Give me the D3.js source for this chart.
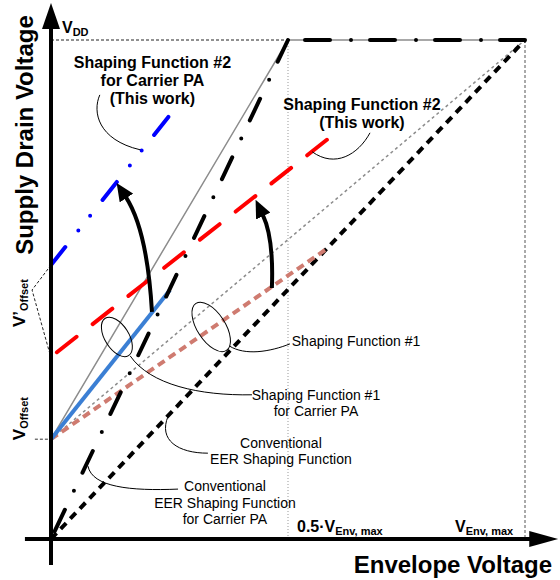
<!DOCTYPE html>
<html>
<head>
<meta charset="utf-8">
<script src="https://cdn.jsdelivr.net/npm/d3@7"></script>
<style>
  body { margin: 0; background: #fff; }
  text { font-family: "Liberation Sans", Arial, Helvetica, sans-serif; fill: #000; }
</style>
</head>
<body>
<div id="chart"></div>
<script>
const width = 560;
const height = 580;

// Envelope voltage (0..1 of V_Env,max) vs supply voltage (0..1 of V_DD)
const vOffset = 0.2;
const conventionalEER = [[0, 0], [1, 1]];
const conventionalCarrierRise = [[0.5, 1], [0, 0]];
const conventionalCarrierFlat = [[1, 1], [0.5, 1]];
const shaping1 = [[0, vOffset], [1, 1]];
const shaping1Carrier = [[0, vOffset], [0.5, 1], [1, 1]];
const shaping1Pink = [[0, vOffset], [0.584, 0.583]];
const shaping1CarrierBlue = [[0, vOffset], [0.251, 0.499]];
const shaping2 = [[0.582, 0.80], [0, 0.365]];
const shaping2Carrier = [[0, 0.549], [0.251, 0.85]];

// annotation geometry (data units)
const arrows = [
  [[0.213, 0.455], [0.203, 0.619], [0.158, 0.685]],
  [[0.466, 0.503], [0.470, 0.603], [0.447, 0.649]]
];
const leaders = [
  [[0.103, 0.890], [0.087, 0.856], [0.099, 0.800], [0.188, 0.780]],
  [[0.673, 0.814], [0.648, 0.770], [0.599, 0.743], [0.551, 0.776]],
  [[0.376, 0.387], [0.409, 0.367], [0.462, 0.375], [0.504, 0.391]],
  [[0.167, 0.367], [0.209, 0.309], [0.314, 0.287], [0.424, 0.289]],
  [[0.247, 0.246], [0.226, 0.198], [0.268, 0.172], [0.331, 0.172]],
  [[0.078, 0.146], [0.087, 0.104], [0.167, 0.096], [0.268, 0.100]]
];
const ellipses = [
  { at: [0.338, 0.425], rx: 28, ry: 14, rot: 57 },
  { at: [0.139, 0.405], rx: 22, ry: 12, rot: 58 }
];
const labels = [
  { lines: ["Shaping Function #2", "for Carrier PA", "(This work)"], at: [0.214, 0.944], bold: true, size: 16, lh: 18, anchor: "middle" },
  { lines: ["Shaping Function #2", "(This work)"], at: [0.656, 0.860], bold: true, size: 16, lh: 18, anchor: "middle" },
  { lines: ["Shaping Function #1"], at: [0.508, 0.387], size: 14, lh: 16, anchor: "start" },
  { lines: ["Shaping Function #1", "for Carrier PA"], at: [0.559, 0.279], size: 14, lh: 16, anchor: "middle" },
  { lines: ["Conventional", "EER Shaping Function"], at: [0.485, 0.182], size: 14, lh: 16, anchor: "middle" },
  { lines: ["Conventional", "EER Shaping Function", "for Carrier PA"], at: [0.367, 0.096], size: 14, lh: 16.5, anchor: "middle" }
];

const svg = d3.select("#chart")
  .append("svg")
  .attr("width", width)
  .attr("height", height);

const x = d3.scaleLinear().domain([0, 1]).range([51, 525]);
const y = d3.scaleLinear().domain([0, 1]).range([539, 40]);
const line = d3.line().x(d => x(d[0])).y(d => y(d[1]));

function draw(points, stroke, w, dash, cap) {
  svg.append("path")
    .attr("d", line(points))
    .attr("fill", "none")
    .attr("stroke", stroke)
    .attr("stroke-width", w)
    .attr("stroke-dasharray", dash || null)
    .attr("stroke-linecap", cap || "butt");
}

// guide lines
draw([[0, 1], [0.5, 1]], "#222", 1, "3,2");
draw([[0.5, 1], [0.5, 0]], "#999", 1, "1,2");
draw([[1, 1], [1, 0]], "#555", 1, "3,2");
draw([[-0.034, vOffset], [0, vOffset]], "#333", 1, "3,2");
draw([[0, 0.549], [-0.04, 0.499], [0, 0.363]], "#222", 1, "3,2");

// curves
draw(shaping1Carrier, "#8c8c8c", 1.5);
draw(shaping1, "#8c8c8c", 1.5, "3,3");
draw(conventionalEER, "#000", 4, "8,6");
draw(shaping1Pink, "#cf7b70", 4, "8,5");
draw(shaping1CarrierBlue, "#3b7fd4", 4);
draw(shaping2, "#ff0000", 4, "25,20.5", "round");
draw(shaping2Carrier, "#0000ff", 4, "23,21,0,19,0,20", "round");
draw(conventionalCarrierRise, "#000", 4, "24,20,0,21", "round");
draw(conventionalCarrierFlat, "#000", 4, "25,19,0,21", "round");

// arrows
svg.append("defs").append("marker")
  .attr("id", "head")
  .attr("markerUnits", "userSpaceOnUse")
  .attr("viewBox", "0 0 18 16")
  .attr("refX", 1).attr("refY", 8)
  .attr("markerWidth", 18).attr("markerHeight", 16)
  .attr("orient", "auto")
  .append("path").attr("d", "M0,0 L18,8 L0,16 Z").attr("fill", "#000");

arrows.forEach(a => {
  svg.append("path")
    .attr("d", `M${x(a[0][0])},${y(a[0][1])} Q${x(a[1][0])},${y(a[1][1])} ${x(a[2][0])},${y(a[2][1])}`)
    .attr("fill", "none")
    .attr("stroke", "#000")
    .attr("stroke-width", 4)
    .attr("marker-end", "url(#head)");
});

// leader lines and ellipses
leaders.forEach(c => {
  const p = c.map(d => `${x(d[0])},${y(d[1])}`);
  svg.append("path")
    .attr("d", `M${p[0]} C${p[1]} ${p[2]} ${p[3]}`)
    .attr("fill", "none")
    .attr("stroke", "#000")
    .attr("stroke-width", 1);
});
ellipses.forEach(e => {
  svg.append("ellipse")
    .attr("transform", `translate(${x(e.at[0])},${y(e.at[1])}) rotate(${e.rot})`)
    .attr("rx", e.rx).attr("ry", e.ry)
    .attr("fill", "none")
    .attr("stroke", "#000")
    .attr("stroke-width", 1);
});

// axes
svg.append("line")
  .attr("x1", x(0)).attr("x2", x(0))
  .attr("y1", y(-0.052)).attr("y2", y(1.024))
  .attr("stroke", "#000").attr("stroke-width", 4);
svg.append("path")
  .attr("d", `M${x(0)},${y(1.074)} L${x(0) - 9},${y(1.022)} L${x(0) + 9},${y(1.022)} Z`)
  .attr("fill", "#000");
svg.append("line")
  .attr("x1", x(-0.055)).attr("x2", x(1.011))
  .attr("y1", y(0)).attr("y2", y(0))
  .attr("stroke", "#000").attr("stroke-width", 4);
svg.append("path")
  .attr("d", `M${x(1.07)},${y(0)} L${x(1.009)},${y(0) - 8} L${x(1.009)},${y(0) + 8} Z`)
  .attr("fill", "#000");

// annotation labels
labels.forEach(l => {
  const t = svg.append("text")
    .attr("text-anchor", l.anchor)
    .attr("font-size", l.size)
    .attr("font-weight", l.bold ? "bold" : "normal");
  l.lines.forEach((s, i) => {
    t.append("tspan")
      .attr("x", x(l.at[0]))
      .attr("y", y(l.at[1]) + i * l.lh)
      .text(s);
  });
});

// axis titles
svg.append("text")
  .attr("transform", "translate(33,135) rotate(-90)")
  .attr("text-anchor", "middle")
  .attr("font-size", 24).attr("font-weight", "bold")
  .text("Supply Drain Voltage");
svg.append("text")
  .attr("x", 552).attr("y", 573)
  .attr("text-anchor", "end")
  .attr("font-size", 24).attr("font-weight", "bold")
  .text("Envelope Voltage");

// symbol labels with subscripts
function sym(sel, main, sub, mainSize, subSize) {
  sel.attr("font-weight", "bold");
  sel.append("tspan").attr("font-size", mainSize).text(main);
  sel.append("tspan").attr("font-size", subSize).attr("dy", 3).text(sub);
}
sym(svg.append("text").attr("x", 62).attr("y", 33), "V", "DD", 16, 11);
sym(svg.append("text").attr("x", 297).attr("y", 532), "0.5·V", "Env, max", 16, 11);
sym(svg.append("text").attr("x", 455).attr("y", 532), "V", "Env, max", 16, 11);
sym(svg.append("text").attr("transform", `translate(25,${y(vOffset) + 1}) rotate(-90)`), "V", "Offset", 17, 11);
sym(svg.append("text").attr("transform", "translate(25,327) rotate(-90)"), "V’", "Offset", 17, 11);
</script>
</body>
</html>
